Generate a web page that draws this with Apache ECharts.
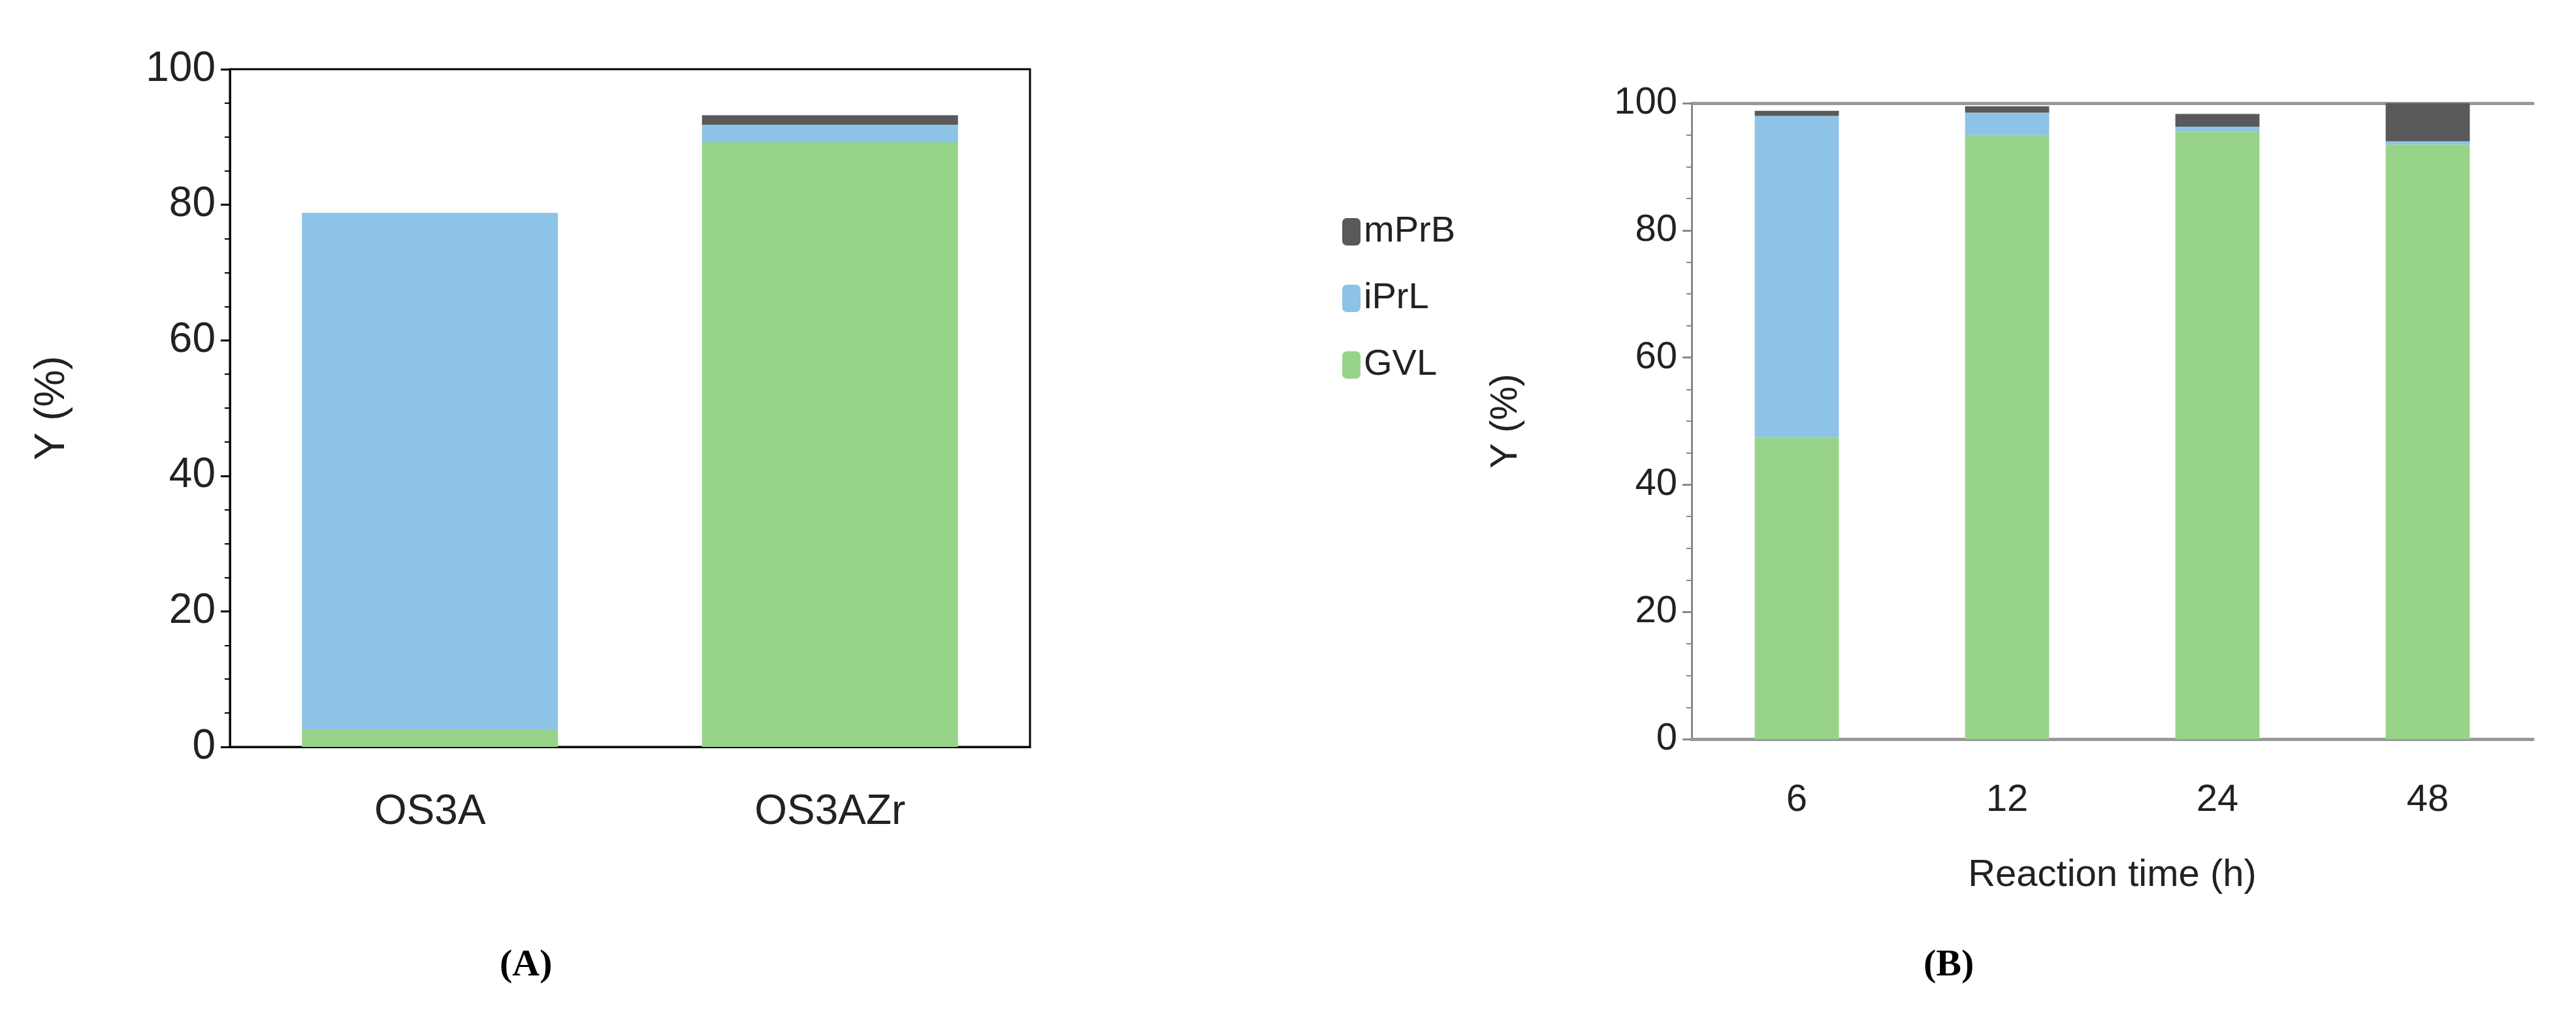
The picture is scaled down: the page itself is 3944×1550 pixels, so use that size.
<!DOCTYPE html><html><head><meta charset="utf-8">
<script src="https://cdn.jsdelivr.net/npm/echarts@6/dist/echarts.min.js"></script>
<style>html,body{margin:0;background:#fff}#c{width:3944px;height:1550px}</style></head><body><div id="c"></div>
<script>
const catsA=['OS3A','OS3AZr'];
const gvlA=[2.5,89.2], iprlA=[76.3,2.6], mprbA=[0,1.4];
const catsB=['6','12','24','48'];
const gvlB=[47.5,95,95.5,93.5], iprlB=[50.5,3.5,0.8,0.5], mprbB=[0.8,1,2,6];
const yTicks=[0,20,40,60,80,100];
const cG='#98d38a',cB='#8dc3e6',cD='#595959';
const F='Liberation Sans';
const ch=echarts.init(document.getElementById('c'));
function yAx(gi,fs,col,gap){return {type:'value',gridIndex:gi,min:0,max:100,interval:20,
 axisLine:{show:true,lineStyle:{color:col,width:3}},axisTick:{show:true,length:14,lineStyle:{color:col,width:3}},
 minorTick:{show:true,splitNumber:4,length:8,lineStyle:{color:col,width:2}},splitLine:{show:false},
 axisLabel:{fontFamily:F,fontSize:fs,color:'#222',margin:22,formatter:v=>yTicks.includes(v)?String(v):''},
 name:'Y (%)',nameLocation:'middle',nameGap:gap,nameTextStyle:{fontFamily:F,fontSize:fs,color:'#222'}};}
ch.setOption({animation:false,
 grid:[{left:352,top:106,width:1225,height:1038,show:true,borderColor:'#000',borderWidth:3},
       {left:2590,top:158,width:1288,height:974}],
 legend:{left:2050,top:322,orient:'vertical',itemWidth:28,itemHeight:42,itemGap:46,
   textStyle:{fontFamily:F,fontSize:56,color:'#222'},data:['mPrB','iPrL','GVL']},
 xAxis:[{type:'category',gridIndex:0,data:catsA,axisLine:{lineStyle:{color:'#000',width:3}},axisTick:{show:false},
   axisLabel:{fontFamily:F,fontSize:64,color:'#222',margin:68}},
  {type:'category',gridIndex:1,data:catsB,axisLine:{lineStyle:{color:'#999',width:5}},axisTick:{show:false},
   axisLabel:{fontFamily:F,fontSize:58,color:'#222',margin:65},
   name:'Reaction time (h)',nameLocation:'middle',nameGap:180,nameTextStyle:{fontFamily:F,fontSize:58,color:'#222'}},
  {type:'category',gridIndex:1,position:'top',data:catsB,axisLine:{lineStyle:{color:'#999',width:5}},axisTick:{show:false},axisLabel:{show:false}}],
 yAxis:[yAx(0,64,'#000',240),yAx(1,58,'#888',255)],
 graphic:[{type:'text',left:765,top:1450,style:{text:'(A)',font:'bold 58px "Liberation Serif"',fill:'#000'}},
          {type:'text',left:2945,top:1450,style:{text:'(B)',font:'bold 58px "Liberation Serif"',fill:'#000'}}],
 series:[
  {name:'GVL',type:'bar',stack:'a',xAxisIndex:0,yAxisIndex:0,data:gvlA,barWidth:'64%',itemStyle:{color:cG}},
  {name:'iPrL',type:'bar',stack:'a',xAxisIndex:0,yAxisIndex:0,data:iprlA,itemStyle:{color:cB}},
  {name:'mPrB',type:'bar',stack:'a',xAxisIndex:0,yAxisIndex:0,data:mprbA,itemStyle:{color:cD}},
  {name:'GVL',type:'bar',stack:'b',xAxisIndex:1,yAxisIndex:1,data:gvlB,barWidth:'40%',itemStyle:{color:cG}},
  {name:'iPrL',type:'bar',stack:'b',xAxisIndex:1,yAxisIndex:1,data:iprlB,itemStyle:{color:cB}},
  {name:'mPrB',type:'bar',stack:'b',xAxisIndex:1,yAxisIndex:1,data:mprbB,itemStyle:{color:cD}}]});
</script></body></html>
